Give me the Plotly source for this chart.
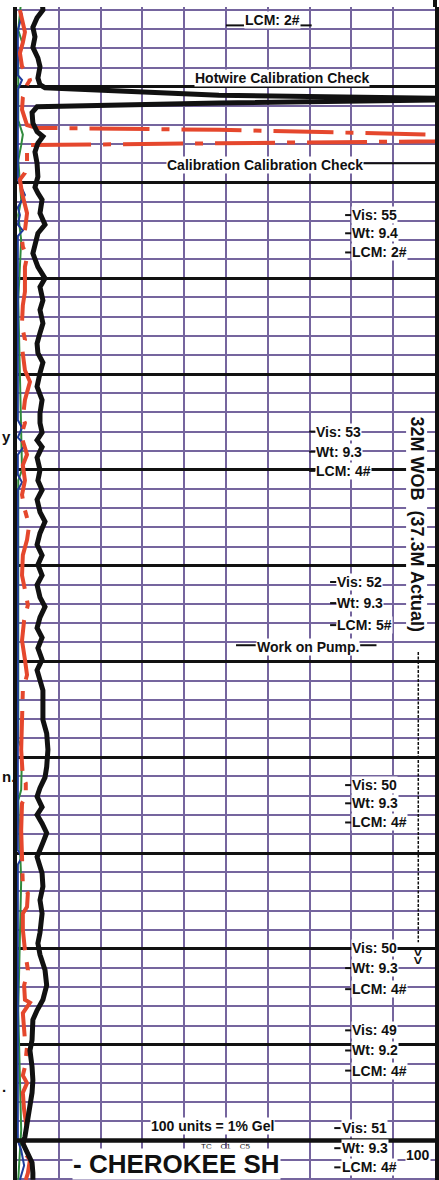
import plotly.graph_objects as go

# ---------------------------------------------------------------------------
# Mud-log gas track: depth in feet, gas in units (100 units = 1% gas)
# ---------------------------------------------------------------------------
DEPTH_TOP, DEPTH_BOTTOM = 4401.68, 4524.12
GAS_MIN, GAS_MAX = 0, 100

# Total gas (hotwire) curve
tc_depth = [4401.0, 4402.0, 4402.8, 4403.8, 4404.8, 4405.9, 4407.0, 4407.9, 4409.1, 4409.8,
            4410.1, 4410.9, 4411.2, 4411.3, 4411.4, 4411.7, 4412.1, 4412.7, 4413.8, 4414.7,
            4415.2, 4415.9, 4416.8, 4418.0, 4419.4, 4420.5, 4421.1, 4421.8, 4423.2, 4424.4,
            4425.3, 4427.4, 4428.8, 4430.0, 4430.9, 4432.3, 4433.3, 4434.7, 4435.7, 4436.8,
            4437.8, 4438.8, 4439.9, 4441.3, 4442.7, 4444.1, 4445.1, 4446.1, 4446.9, 4447.6,
            4448.7, 4450.0, 4451.1, 4452.1, 4453.1, 4454.4, 4455.4, 4456.6, 4457.8, 4458.9,
            4459.9, 4461.0, 4462.0, 4463.3, 4464.3, 4465.4, 4466.5, 4467.5, 4468.6, 4469.8,
            4470.9, 4471.9, 4473.0, 4474.0, 4476.1, 4477.5, 4479.2, 4481.0, 4482.1, 4483.2,
            4484.1, 4485.2, 4486.0, 4486.9, 4487.9, 4488.9, 4490.4, 4492.1, 4493.5, 4494.9,
            4496.3, 4498.3, 4499.4, 4500.6, 4502.2, 4503.8, 4505.3, 4506.4, 4507.4, 4509.5,
            4510.6, 4512.3, 4513.7, 4515.0, 4516.5, 4517.5, 4518.6, 4519.6, 4520.3, 4521.3,
            4522.3, 4523.4, 4524.1]
tc_units = [6.0, 6.2, 4.8, 3.8, 4.3, 3.8, 5.0, 5.5, 5.0, 5.5,
            6.7, 48.3, 100.0, 107.9, 100.0, 48.3, 4.8, 3.6, 3.8, 4.8,
            6.2, 5.0, 4.3, 4.8, 5.0, 4.3, 5.0, 6.0, 5.5, 6.7,
            5.0, 3.8, 5.0, 6.7, 5.5, 6.2, 5.5, 6.2, 5.5, 4.8,
            5.0, 6.2, 5.5, 4.8, 6.0, 5.5, 5.5, 6.0, 4.8, 6.0,
            4.8, 5.5, 5.0, 6.0, 4.8, 5.5, 6.7, 5.5, 4.8, 6.0,
            5.0, 6.0, 4.8, 5.5, 6.7, 5.5, 4.8, 6.0, 5.0, 6.0,
            4.8, 5.5, 6.2, 6.2, 6.2, 7.1, 7.4, 7.1, 6.7, 5.5,
            4.8, 6.0, 4.8, 6.0, 7.1, 6.2, 4.8, 6.0, 6.2, 5.5,
            6.0, 5.5, 5.0, 5.5, 6.7, 7.1, 6.2, 4.8, 3.8, 3.6,
            3.1, 3.6, 3.8, 3.6, 3.1, 2.6, 2.4, 1.9, 1.4, 2.4,
            3.6, 3.8, 3.8]

# Chromatograph C1 curve
c1_depth = [4402.0, 4403.0, 4404.3, 4405.4, 4406.5, 4407.9, 4408.6, 4409.3, 4409.8, 4411.1,
            4412.4, 4414.0, 4414.3, 4414.5, 4415.0, 4415.4, 4415.7, 4415.9, 4416.1, 4416.8,
            4418.2, 4419.0, 4419.7, 4421.1, 4422.6, 4423.2, 4425.0, 4426.0, 4426.7, 4427.8,
            4428.8, 4430.2, 4431.4, 4432.8, 4434.6, 4435.4, 4436.4, 4437.2, 4439.6, 4440.3,
            4440.8, 4442.7, 4444.6, 4445.1, 4446.4, 4447.4, 4448.4, 4449.5, 4451.1, 4452.6,
            4454.2, 4455.8, 4457.3, 4458.9, 4461.0, 4462.5, 4464.1, 4465.7, 4467.8, 4469.8,
            4471.4, 4473.0, 4474.5, 4476.1, 4479.2, 4482.1, 4482.7, 4484.1, 4484.8, 4487.6,
            4490.4, 4493.5, 4494.2, 4495.6, 4496.3, 4498.0, 4500.1, 4502.2, 4503.8, 4505.3,
            4505.6, 4506.7, 4509.5, 4510.2, 4512.3, 4513.2, 4514.0, 4515.0, 4516.8, 4518.9,
            4521.0, 4522.0, 4523.4, 4524.1]
c1_units = [0.7, 1.2, 1.9, 1.4, 0.7, 1.2, 2.6, 3.1, 2.4, 1.4,
            1.2, 2.4, 4.8, 48.3, 100.0, 105.5, 100.0, 48.3, 2.4, 2.4,
            2.4, 1.9, 0.7, 1.2, 1.9, 2.4, 1.9, 1.2, 1.4, 2.4,
            1.9, 1.9, 1.9, 1.4, 1.2, 1.4, 1.9, 1.2, 1.9, 2.6,
            3.1, 1.9, 1.4, 1.9, 1.0, 1.7, 2.4, 1.4, 1.9, 1.2,
            1.9, 2.9, 2.4, 1.4, 1.2, 1.9, 2.6, 1.7, 1.2, 1.9,
            2.4, 1.4, 1.2, 1.2, 1.0, 1.4, 2.1, 2.1, 1.2, 1.0,
            1.2, 1.4, 2.6, 2.4, 1.4, 1.4, 1.9, 2.6, 1.7, 1.9,
            3.1, 1.4, 1.9, 2.4, 1.9, 1.4, 2.4, 1.4, 1.7, 2.4,
            1.2, 3.1, 2.6, 2.1]

# Chromatograph C2 curve
c2_depth = [4402.0, 4402.5, 4404.1, 4408.8, 4409.3, 4410.3, 4419.7, 4420.5, 4421.3, 4422.6,
            4423.4, 4424.4, 4425.0, 4425.6, 4444.8, 4445.6, 4446.6, 4447.4, 4448.4, 4450.5,
            4451.3, 4452.1, 4489.7, 4490.4, 4491.2, 4520.0, 4521.0, 4522.6, 4524.1]
c2_units = [0.7, 1.2, 0.2, 0.2, 1.2, 0.2, 0.2, 1.0, 1.9, 0.2,
            0.7, 0.2, 1.4, 0.2, 0.2, 1.2, 0.2, 1.9, 0.2, 0.2,
            1.2, 0.2, 0.2, 1.2, 0.2, 0.2, 1.0, 1.7, 0.7]

# Chromatograph C3 curve
c3_depth = [4401.0, 4404.1, 4405.6, 4407.2, 4413.5, 4415.0, 4416.1, 4417.7, 4421.8, 4423.4,
            4426.0, 4432.3, 4450.0, 4451.1, 4478.2, 4479.2, 4483.4, 4484.5, 4492.8, 4506.4,
            4518.9, 4524.1]
c3_units = [1.0, 0.3, 1.4, 0.3, 0.3, 1.4, 1.0, 0.3, 1.0, 0.3,
            1.0, 0.3, 1.2, 0.3, 0.3, 1.2, 1.0, 0.3, 1.0, 0.3,
            1.0, 0.3]

# Mud property checks written on the track
mud_text = ["LCM: 2#",
            "Vis: 55", "Wt: 9.4", "LCM: 2#",
            "Vis: 53", "Wt: 9.3", "LCM: 4#",
            "Vis: 52", "Wt: 9.3", "LCM: 5#",
            "Vis: 50", "Wt: 9.3", "LCM: 4#",
            "Vis: 50", "Wt: 9.3", "LCM: 4#",
            "Vis: 49", "Wt: 9.2", "LCM: 4#",
            "Vis: 51", "Wt: 9.3", "LCM: 4#"]
mud_units = [54.3,
             80.0, 80.0, 80.0,
             71.4, 71.4, 71.4,
             76.4, 76.4, 76.4,
             80.0, 80.0, 80.0,
             80.0, 80.0, 80.0,
             80.0, 80.0, 80.0,
             77.4, 77.4, 77.4]
mud_depth = [4403.0,
             4423.4, 4425.3, 4427.3,
             4446.0, 4448.1, 4450.1,
             4461.7, 4463.9, 4466.2,
             4482.9, 4484.8, 4486.8,
             4499.9, 4502.0, 4504.2,
             4508.5, 4510.6, 4512.7,
             4518.7, 4520.8, 4522.8]

# Operational remarks
remark_text = ["Hotwire Calibration Check", "Calibration Calibration Check",
               "Work on Pump.", "100 units = 1% Gel"]
remark_units = [42.4, 35.7, 57.1, 31.7]
remark_depth = [4409.1, 4418.2, 4468.5, 4518.5]

# Leader strokes tying remarks to their depth lines: (from units, to units, depth)
leader_from = [50.0, 67.4, 82.1, 52.4, 82.1]
leader_to = [54.3, 70.5, 100.0, 57.1, 86.0]
leader_depth = [4403.6, 4403.6, 4418.0, 4468.3, 4468.3]

# Weight-on-bit interval note
wob_text = "32M WOB\u00a0\u00a0(37.3M Actual)"
wob_units = 95.7
wob_depth = 4455.6
wob_arrow_top, wob_arrow_bottom = 4469.0, 4499.3
wob_arrow_head = 4500.8

# Formation top
formation_name = "- CHEROKEE SH"
formation_depth = 4520.0
formation_label_units = 13.1
curve_header = "TC\u00a0\u00a0\u00a0\u00a0C1\u00a0\u00a0\u00a0\u00a0C5"
curve_header_units = 49.8
curve_header_depth = 4520.6
scale_label = "100"
scale_label_units = 99.0
scale_label_depth = 4521.5

# Fragments of the neighbouring lithology track's text
edge_text = ["y", "n.", "."]
edge_depth = [4446.5, 4482.0, 4514.4]

PURPLE = "#75659e"
RED = "#e5472d"
BLUE = "#1f3c9c"
GREEN = "#2f8a3c"
INK = "#111111"
FONT = "Liberation Sans, Arial, sans-serif"

fig = go.Figure()

fig.add_trace(go.Scatter(x=c3_units, y=c3_depth, mode="lines", name="C3",
                         line=dict(color=GREEN, width=2)))
fig.add_trace(go.Scatter(x=c2_units, y=c2_depth, mode="lines", name="C2",
                         line=dict(color=BLUE, width=2)))
fig.add_trace(go.Scatter(x=c1_units, y=c1_depth, mode="lines", name="C1",
                         line=dict(color=RED, width=4, dash="60px,12px,8px,12px")))
fig.add_trace(go.Scatter(x=[GAS_MIN, GAS_MAX], y=[formation_depth, formation_depth],
                         mode="lines", name="Formation top",
                         line=dict(color=INK, width=4.5)))
fig.add_trace(go.Scatter(x=tc_units, y=tc_depth, mode="lines", name="TC",
                         line=dict(color=INK, width=5)))

# WOB interval arrow shaft
fig.add_trace(go.Scatter(x=[wob_units + 0.3, wob_units + 0.3], y=[wob_arrow_top, wob_arrow_bottom],
                         mode="lines", name="WOB interval",
                         line=dict(color=INK, width=1.5, dash="3px,1.5px")))

# Leader strokes
for x0, x1, d in zip(leader_from, leader_to, leader_depth):
    fig.add_shape(type="line", x0=x0, x1=x1, y0=d, y1=d, xref="x", yref="y",
                  line=dict(color=INK, width=2))
for x0, d in zip(mud_units[1:], mud_depth[1:]):
    fig.add_shape(type="line", x0=x0 - 1.5, x1=x0, y0=d, y1=d, xref="x", yref="y",
                  line=dict(color=INK, width=2))

# Right border runs up past the top of the grid
fig.add_shape(type="line", xref="paper", yref="paper", x0=1, x1=1, y0=1, y1=1.007,
              line=dict(color=INK, width=4))

note_font = dict(family=FONT, size=14, color=INK, weight="bold")

annotations = []
for t, x, d in zip(mud_text, mud_units, mud_depth):
    annotations.append(dict(x=x, y=d, text=t, xanchor="left", yanchor="middle",
                            showarrow=False, bgcolor="white", borderpad=0, font=note_font))
for t, x, d in zip(remark_text, remark_units, remark_depth):
    annotations.append(dict(x=x, y=d, text=t, xanchor="left", yanchor="middle",
                            showarrow=False, bgcolor="white", borderpad=0, font=note_font))
annotations.append(dict(x=wob_units, y=wob_depth, text=wob_text, textangle=90,
                        xanchor="center", yanchor="middle", showarrow=False,
                        bgcolor="white", borderpad=0,
                        font=dict(family=FONT, size=18, color=INK, weight="bold")))
annotations.append(dict(x=wob_units + 0.3, y=wob_arrow_head, text=">>", textangle=90,
                        xanchor="center", yanchor="middle", showarrow=False,
                        font=dict(family=FONT, size=14, color=INK, weight="bold")))
annotations.append(dict(x=curve_header_units, y=curve_header_depth, text=curve_header,
                        xanchor="center", yanchor="middle", showarrow=False,
                        font=dict(family=FONT, size=8, color=INK)))
annotations.append(dict(x=formation_label_units, y=0, yref="paper", text=formation_name,
                        xanchor="left", yanchor="bottom", showarrow=False,
                        bgcolor="white", borderpad=0,
                        font=dict(family=FONT, size=26, color=INK, weight="bold")))
annotations.append(dict(x=scale_label_units, y=scale_label_depth, text=scale_label,
                        xanchor="right", yanchor="middle", showarrow=False,
                        bgcolor="white", borderpad=0, font=note_font))
for t, d in zip(edge_text, edge_depth):
    annotations.append(dict(x=-17 / 420, y=d, xref="paper", yref="y", text=t,
                            xanchor="left", yanchor="middle", showarrow=False,
                            font=dict(family=FONT, size=15, color=INK, weight="bold")))

fig.update_layout(
    width=439, height=1180,
    margin=dict(l=17, r=2, t=7, b=0),
    paper_bgcolor="white", plot_bgcolor="white",
    showlegend=False,
    annotations=annotations,
    xaxis=dict(range=[GAS_MIN, GAS_MAX], tick0=0, dtick=10, showgrid=True,
               gridcolor=PURPLE, gridwidth=2, showticklabels=False, ticks="",
               zeroline=False, showline=False, fixedrange=True),
    yaxis=dict(range=[DEPTH_BOTTOM, DEPTH_TOP], tick0=0, dtick=10, showgrid=True,
               gridcolor=INK, gridwidth=2.5,
               minor=dict(dtick=2, tick0=0, showgrid=True, gridcolor=PURPLE, gridwidth=2),
               showticklabels=False, ticks="", zeroline=False,
               showline=True, mirror=True, linecolor=INK, linewidth=4, fixedrange=True),
)

fig.write_html("out.html")
